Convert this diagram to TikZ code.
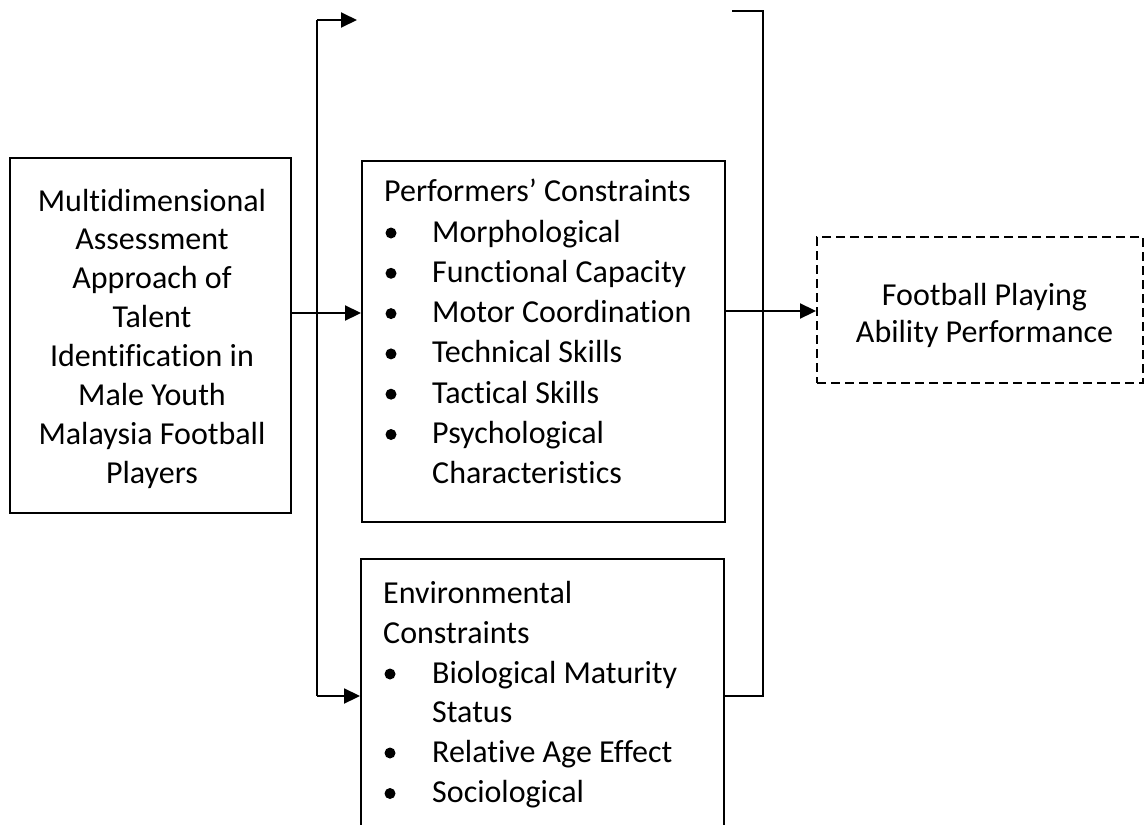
\documentclass[tikz,border=0pt]{standalone}
\usepackage{fontspec}
\setmainfont{Carlito}[Ligatures=NoCommon]
\usetikzlibrary{arrows.meta}
\begin{document}
\begin{tikzpicture}[x=1pt,y=-1pt,
 box/.style={draw,line width=1.9pt,inner sep=0pt,rectangle},
 txt/.style={inner sep=0pt,font=\fontsize{32}{38}\selectfont},
 arr/.style={line width=1.9pt,-{Triangle[length=16pt,width=15pt]}},
 thinl/.style={line width=1.1pt},
 dot/.style={fill=black}]
\useasboundingbox (0,0) rectangle (1144,825);
% boxes
\node[box,minimum width=281pt,minimum height=355pt] (src) at (150.5,335.5) {};
\node[box,minimum width=363pt,minimum height=361pt] (perf) at (543.5,341.5) {};
\node[box,minimum width=363pt,minimum height=300pt] (env) at (542.5,709) {};
\node[box,dash pattern=on 9pt off 5pt,minimum width=326pt,minimum height=146pt] (goal) at (980,310) {};
% source text
\foreach \t [count=\i from 0] in {Multidimensional,Assessment,Approach of,Talent,Identification in,Male Youth,Malaysia Football,Players}
  \node[txt,anchor=base] (s\i) at (152,{211+38.9*\i}) {\t};
% performers text
\node[txt,anchor=base west] (p0) at (384,201.7) {Performers’ Constraints};
\foreach \t [count=\i] in {Morphological,Functional Capacity,Motor Coordination,Technical Skills,Tactical Skills,Psychological}
 {\node[txt,anchor=base west] (p\i) at (432,{201.7+40.3*\i}) {\t};
  \fill[dot] (391,{201.7+40.3*\i-9}) circle (5.5pt);}
\node[txt,anchor=base west] (p7) at (432,{201.7+40.3*7}) {Characteristics};
% environment text
\node[txt,anchor=base west] (e0) at (383,603) {Environmental};
\node[txt,anchor=base west] (e1) at (383,643) {Constraints};
\node[txt,anchor=base west] (e2) at (432,683) {Biological Maturity};
\node[txt,anchor=base west] (e3) at (432,722.5) {Status};
\node[txt,anchor=base west] (e4) at (432,762) {Relative Age Effect};
\node[txt,anchor=base west] (e5) at (432,802.5) {Sociological};
\fill[dot] (390,674) circle (5.5pt);
\fill[dot] (390,753) circle (5.5pt);
\fill[dot] (390,793.5) circle (5.5pt);
% goal text
\node[txt,anchor=base] (g0) at (984.5,305) {Football Playing};
\node[txt,anchor=base] (g1) at (984.5,342) {Ability Performance};
% connectors
\coordinate (y1) at (0,313);
\draw[arr] (src.east|-y1) -- (perf.west|-y1);
\coordinate (y2) at (0,311);
\draw[arr] (perf.east|-y2) -- (goal.west|-y2);
\coordinate (tl) at (317,20);
\coordinate (tt) at (357,20);
\coordinate (bl) at (317,696);
\draw[thinl] (tl) -- (bl);
\draw[arr] (tl) -- (tt);
\draw[arr] (bl) -- (env.west|-bl);
\coordinate (rb) at (763,696);
\coordinate (rt) at (763,11);
\coordinate (re) at (732,11);
\draw[thinl] (env.east|-rb) -- (rb) -- (rt) -- (re);
\end{tikzpicture}
\end{document}
